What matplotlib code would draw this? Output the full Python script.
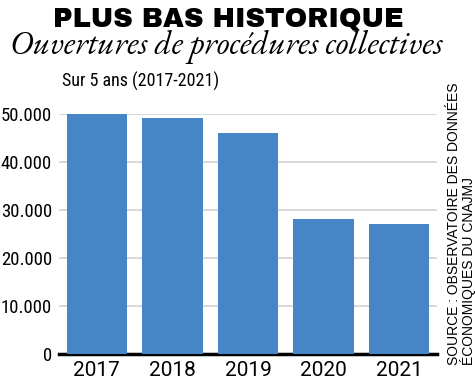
import matplotlib
matplotlib.use('Agg')
import matplotlib.pyplot as plt

years = ["2017", "2018", "2019", "2020", "2021"]
ouvertures = [49900, 49100, 46100, 28100, 27100]
y_ticks = [0, 10000, 20000, 30000, 40000, 50000]
y_labels = ["0", "10.000", "20.000", "30.000", "40.000", "50.000"]

bar_color = '#4686c6'
cond = 'Roboto Condensed'

fig = plt.figure(figsize=(4.75, 3.84), dpi=100)
ax = fig.add_axes([59/475, 1-354/384, (437-59)/475, (354-114)/384])

ax.bar(range(len(years)), ouvertures, width=0.8, color=bar_color, zorder=3)
ax.set_xlim(-0.5, len(years) - 0.5)
ax.set_ylim(0, 50000)

ax.set_yticks(y_ticks)
ax.set_yticklabels(y_labels, fontfamily=cond, fontsize=13.5)
ax.set_xticks(range(len(years)))
ax.set_xticklabels(years, fontfamily='Roboto', fontsize=15)
ax.tick_params(axis='y', length=0, pad=5)
ax.tick_params(axis='x', length=0, pad=5)

ax.yaxis.grid(True, color='#d9d9d9', linewidth=1.5, zorder=0)
ax.set_axisbelow(True)
for s in ['top', 'right', 'left']:
    ax.spines[s].set_visible(False)
ax.spines['bottom'].set_linewidth(2.5)
ax.spines['bottom'].set_color('black')
ax.spines['bottom'].set_zorder(2)

fig.text(0.48, 1-26/384, "PLUS BAS HISTORIQUE", ha='center', va='baseline',
         fontfamily='Archivo Black', fontsize=19.5)
fig.text(0.476, 1-54/384, "Ouvertures de procédures collectives", ha='center',
         va='baseline', fontfamily=['EB Garamond', 'Liberation Serif'],
         fontstyle='italic', fontsize=24)
fig.text(62/475, 1-87/384, "Sur 5 ans (2017-2021)", ha='left', va='baseline',
         fontfamily=cond, fontsize=13)
fig.text(447/475, 1-365/384, "SOURCE : OBSERVATOIRE DES DONNÉES\nÉCONOMIQUES DU CNAJMJ",
         rotation=90, ha='left', va='bottom', multialignment='left',
         fontfamily='Liberation Sans', fontsize=10, linespacing=0.9)

fig.savefig('out.png', dpi=100)
